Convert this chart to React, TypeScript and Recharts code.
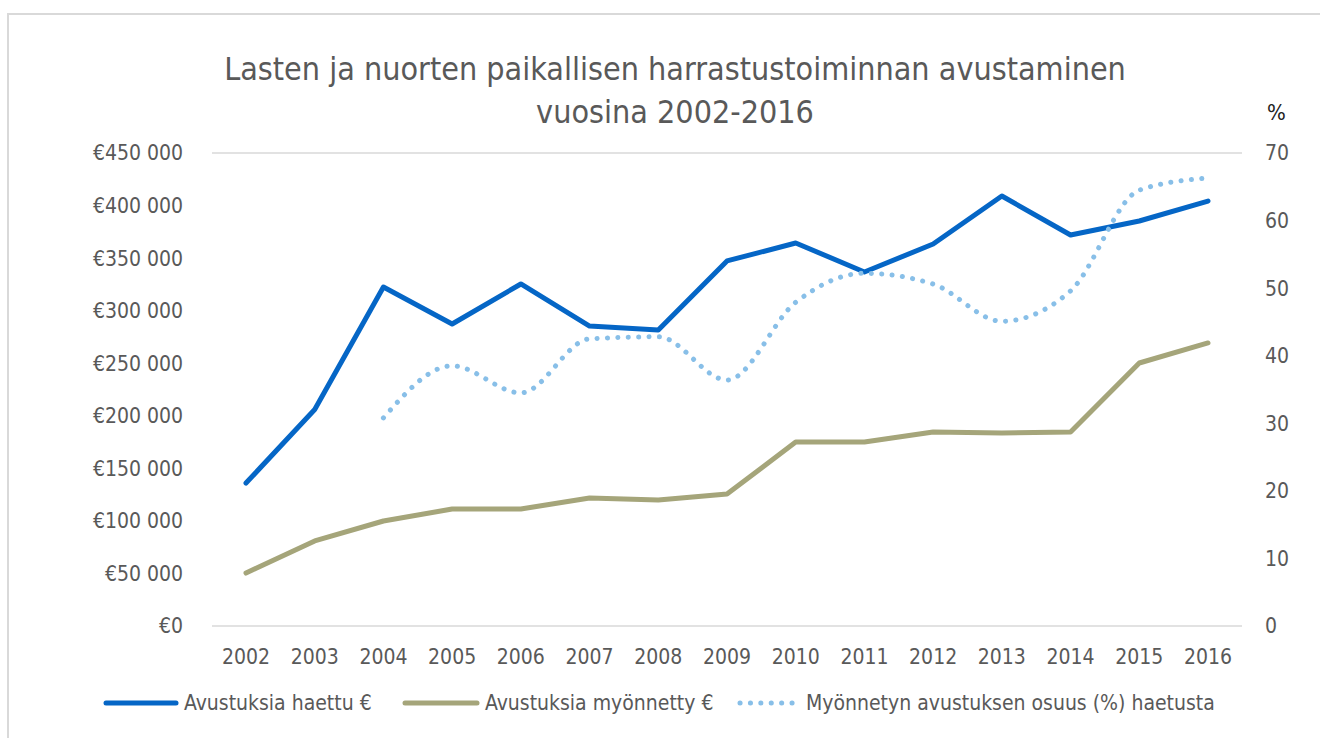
import React from 'react'
import {
  LineChart, Line, XAxis, YAxis, CartesianGrid,
} from 'recharts'

const years = [
  '2002', '2003', '2004', '2005', '2006', '2007', '2008', '2009',
  '2010', '2011', '2012', '2013', '2014', '2015', '2016',
]
const haettu = [
  136000, 206000, 322500, 287300, 325400, 285400, 281600, 347300,
  364400, 336800, 363400, 409100, 372000, 385300, 404300,
]
const myonnetty = [
  50400, 80900, 99900, 111300, 111300, 121800, 119900, 125600,
  175000, 175000, 184600, 183600, 184600, 250200, 269300,
]
const osuus = [
  null, null, 30.8, 38.5, 34.5, 42.5, 42.8, 36.4,
  47.9, 52.2, 50.6, 45.1, 49.6, 64.5, 66.3,
]
const euroTicks = [0, 50000, 100000, 150000, 200000, 250000, 300000, 350000, 400000, 450000]
const pctTicks = [0, 10, 20, 30, 40, 50, 60, 70]

const seriesNames = [
  'Avustuksia haettu €',
  'Avustuksia myönnetty €',
  'Myönnetyn avustuksen osuus (%) haetusta',
]

const data = years.map((y, i) => ({
  year: y,
  haettu: haettu[i],
  myonnetty: myonnetty[i],
  osuus: osuus[i],
}))

const FONT = '"DejaVu Sans Condensed", "Liberation Sans", sans-serif'
const TEXT = '#595959'
const BLUE = '#0566c6'
const OLIVE = '#a5a57a'
const LIGHT = '#88bfe8'

const euro = (v: number) =>
  v === 0 ? '€0' : '€' + String(v).replace(/\B(?=(\d{3})+(?!\d))/g, ' ')

function LegendItem({ left, color, dotted, label, w }: {
  left: number
  color: string
  dotted: boolean
  label: string
  w: number
}) {
  return (
    <div style={{ position: 'absolute', left, top: 0, display: 'flex', alignItems: 'center', whiteSpace: 'nowrap' }}>
      <svg width={w} height={10} style={{ marginRight: 5 }}>
        <line
          x1={3} y1={5} x2={w - 3} y2={5}
          stroke={color}
          strokeWidth={5}
          strokeLinecap="round"
          strokeDasharray={dotted ? '0.1 10.3' : undefined}
        />
      </svg>
      <span>{label}</span>
    </div>
  )
}

function ChartLegend() {
  return (
    <div style={{
      position: 'absolute', left: 0, top: 691, width: 1320, height: 28,
      fontFamily: FONT, fontSize: 21, color: TEXT,
    }}>
      <LegendItem left={103} color={BLUE} dotted={false} label={seriesNames[0]} w={76} />
      <LegendItem left={402} color={OLIVE} dotted={false} label={seriesNames[1]} w={78} />
      <LegendItem left={737} color={LIGHT} dotted label={seriesNames[2]} w={64} />
    </div>
  )
}

export default function App() {
  return (
    <div style={{ position: 'absolute', left: 0, top: 0, width: 1320, height: 738, overflow: 'hidden', background: '#fff', fontFamily: FONT }}>
      <div style={{
        position: 'absolute', left: 7, top: 13, width: 1340, height: 760,
        border: '2px solid #d9d9d9',
      }} />
      <div style={{
        position: 'absolute', left: 0, top: 48, width: 1350, textAlign: 'center',
        fontSize: 32, lineHeight: '43px', color: TEXT,
      }}>
        Lasten ja nuorten paikallisen harrastustoiminnan avustaminen<br />
        vuosina 2002-2016
      </div>
      <div style={{ position: 'absolute', left: 1267, top: 100, fontSize: 22, color: '#222' }}>%</div>
      <div style={{ position: 'absolute', left: 0, top: 0 }}>
        <LineChart
          width={1320}
          height={738}
          data={data}
          margin={{ top: 153, right: 0, bottom: 0, left: 0 }}
        >
          <CartesianGrid vertical={false} stroke="#d9d9d9" strokeWidth={1.5} />
          <XAxis
            dataKey="year"
            axisLine={false}
            tickLine={false}
            padding={{ left: 34, right: 34 }}
            tick={{ fill: TEXT, fontSize: 21, fontFamily: FONT }}
            tickMargin={17}
            height={112}
            interval={0}
          />
          <YAxis
            yAxisId="left"
            width={212}
            domain={[0, 450000]}
            ticks={euroTicks}
            tickFormatter={euro}
            axisLine={false}
            tickLine={false}
            tickMargin={23}
            tick={{ fill: TEXT, fontSize: 21, fontFamily: FONT }}
          />
          <YAxis
            yAxisId="right"
            orientation="right"
            width={78}
            domain={[0, 70]}
            ticks={pctTicks}
            axisLine={false}
            tickLine={false}
            tickMargin={17}
            tick={{ fill: TEXT, fontSize: 21, fontFamily: FONT }}
          />
          <Line
            yAxisId="left"
            type="linear"
            dataKey="haettu"
            name={seriesNames[0]}
            stroke={BLUE}
            strokeWidth={5}
            strokeLinecap="round"
            strokeLinejoin="round"
            dot={false}
            isAnimationActive={false}
          />
          <Line
            yAxisId="left"
            type="linear"
            dataKey="myonnetty"
            name={seriesNames[1]}
            stroke={OLIVE}
            strokeWidth={5}
            strokeLinecap="round"
            strokeLinejoin="round"
            dot={false}
            isAnimationActive={false}
          />
          <Line
            yAxisId="right"
            type="monotone"
            dataKey="osuus"
            name={seriesNames[2]}
            stroke={LIGHT}
            strokeWidth={5}
            strokeLinecap="round"
            strokeDasharray="0.1 10.3"
            dot={false}
            isAnimationActive={false}
          />
        </LineChart>
      </div>
      <ChartLegend />
    </div>
  )
}
